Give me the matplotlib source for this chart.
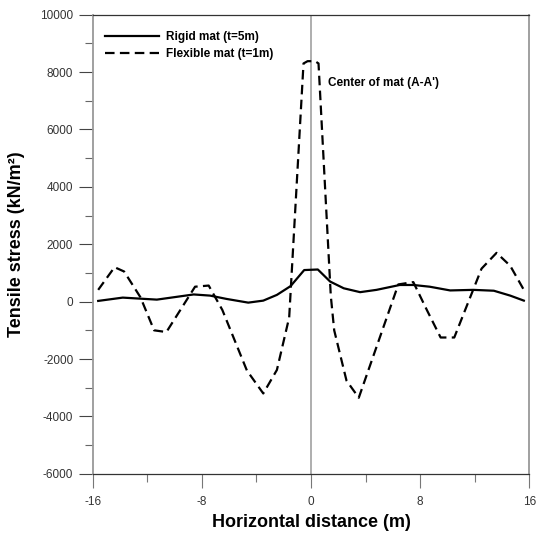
import matplotlib
matplotlib.use("Agg")
import matplotlib.pyplot as plt
from matplotlib.ticker import MultipleLocator

plt.rcParams['font.family'] = ['Liberation Sans', 'DejaVu Sans']
plt.rcParams['axes.unicode_minus'] = False

# rigid mat (t=5m)
rigid_x = [-15.6, -13.8, -11.3, -8.6, -7.4, -6.2, -4.6, -3.5, -2.5, -1.5, -0.5, 0.5,
           1.4, 2.4, 3.6, 4.8, 6.5, 7.5, 8.7, 10.2, 11.9, 13.4, 14.6, 15.6]
rigid_y = [25, 140, 70, 250, 210, 95, -35, 35, 235, 540, 1100, 1120,
           700, 465, 330, 410, 580, 580, 520, 390, 410, 380, 210, 35]

# flexible mat (t=1m)
flex_x = [-15.6, -14.4, -13.7, -12.5, -11.5, -10.6, -8.5, -7.5, -6.5, -4.7, -3.5, -2.5,
          -1.6, -0.55, -0.25, 0.3, 0.55, 1.45, 1.7, 2.6, 3.5, 6.4, 7.5, 8.5, 9.5, 10.5,
          12.5, 13.6, 14.6, 15.6]
flex_y = [410, 1200, 1050, 150, -1000, -1060, 520, 560, -290, -2400, -3200, -2380,
          -550, 8300, 8380, 8380, 8300, 200, -1000, -2750, -3350, 600, 680, -300, -1250, -1250,
          1150, 1700, 1250, 410]

fig = plt.figure(figsize=(5.36, 5.40), dpi=100)
ax = fig.add_axes([0.173, 0.1226, 0.8145, 0.8502])

ax.axvline(0, color='#999999', lw=1.1, zorder=1)
ax.plot(rigid_x, rigid_y, color='black', lw=1.6, label='Rigid mat (t=5m)', zorder=3)
ax.plot(flex_x, flex_y, color='black', lw=1.6, dashes=(4.3, 2.4),
        label='Flexible mat (t=1m)', zorder=3)

ax.set_xlim(-16, 16)
ax.set_ylim(-6000, 10000)
ax.xaxis.set_major_locator(MultipleLocator(8))
ax.xaxis.set_minor_locator(MultipleLocator(4))
ax.yaxis.set_major_locator(MultipleLocator(2000))
ax.yaxis.set_minor_locator(MultipleLocator(1000))

ax.tick_params(which='major', direction='out', length=10, width=0.8, color='#444444',
               labelsize=8.5, labelcolor='#333333')
ax.tick_params(which='minor', direction='out', length=5.5, width=0.8, color='#666666')
ax.tick_params(axis='x', which='both', color='#777777')
ax.tick_params(axis='x', which='major', pad=6)
ax.tick_params(axis='y', which='major', pad=4)

for side in ['left', 'right']:
    ax.spines[side].set_color('#999999')
    ax.spines[side].set_linewidth(1.3)
for side in ['top', 'bottom']:
    ax.spines[side].set_color('#333333')
    ax.spines[side].set_linewidth(0.9)

ax.set_xlabel('Horizontal distance (m)', fontsize=13, fontweight='bold', va='center')
ax.set_ylabel('Tensile stress (kN/m²)', fontsize=13, fontweight='bold', va='center')
ax.xaxis.set_label_coords(0.5, -0.107)
ax.yaxis.set_label_coords(-0.175, 0.5)

ax.text(1.27, 7630, "Center of mat (A-A')", fontsize=8.5, fontweight='bold',
        ha='left', va='center')

ax.legend(loc='upper left', bbox_to_anchor=(0.028, 0.9645), frameon=False,
          borderpad=0, borderaxespad=0, handlelength=4.6, handletextpad=0.6,
          labelspacing=0.4, prop={'size': 8.5, 'weight': 'bold'})

fig.savefig('out.png', dpi=100)
